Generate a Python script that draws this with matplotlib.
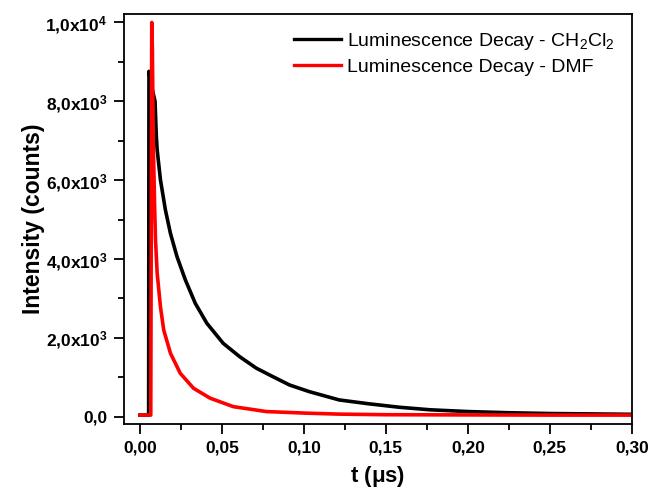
import numpy as np
import matplotlib
matplotlib.use("Agg")
import matplotlib.pyplot as plt
from matplotlib.ticker import MultipleLocator, FuncFormatter

plt.rcParams['font.family'] = ['Liberation Sans', 'DejaVu Sans']
plt.rcParams['mathtext.fontset'] = 'custom'
plt.rcParams['mathtext.rm'] = 'Liberation Sans'
plt.rcParams['mathtext.it'] = 'Liberation Sans:italic'
plt.rcParams['mathtext.bf'] = 'Liberation Sans:bold'

# decay curves (t in microseconds, counts)
t_ch2cl2 = [0.000, 0.0053, 0.0055, 0.0070, 0.0092, 0.0100, 0.0105, 0.0125, 0.0155,
            0.0186, 0.0226, 0.0277, 0.0337, 0.0408, 0.0508, 0.0609, 0.0710, 0.0811,
            0.0912, 0.1033, 0.1215, 0.139, 0.158, 0.177, 0.200, 0.225, 0.250, 0.275, 0.300]
i_ch2cl2 = [40, 40, 8760, 8400, 8000, 7100, 6770, 6010, 5250,
            4650, 4060, 3470, 2880, 2370, 1860, 1520, 1230, 1015,
            805, 635, 425, 330, 240, 175, 130, 100, 80, 70, 60]

t_dmf = [0.000, 0.0066, 0.0072, 0.0076, 0.0081, 0.0090, 0.0095, 0.0105, 0.0125,
         0.0145, 0.0186, 0.0246, 0.0327, 0.0428, 0.0569, 0.0771, 0.1013, 0.1215,
         0.150, 0.200, 0.250, 0.300]
i_dmf = [40, 40, 10000, 9300, 7000, 5250, 4480, 3640, 2790,
         2200, 1610, 1100, 720, 470, 255, 130, 90, 65,
         50, 45, 40, 40]

labels = [r'Luminescence Decay - CH$_2$Cl$_2$', 'Luminescence Decay - DMF']

fig = plt.figure(figsize=(6.52, 4.93), dpi=100)
ax = fig.add_axes([0.190, 0.140, 0.779, 0.832])

ax.plot(t_ch2cl2, i_ch2cl2, color='black', lw=2.6, label=labels[0])
ax.plot(t_dmf, i_dmf, color='red', lw=2.6, label=labels[1])

ax.set_xlim(-0.0098, 0.300)
ax.set_ylim(-185, 10220)

ax.xaxis.set_major_locator(MultipleLocator(0.05))
ax.xaxis.set_minor_locator(MultipleLocator(0.025))
ax.yaxis.set_major_locator(MultipleLocator(2000))
ax.yaxis.set_minor_locator(MultipleLocator(1000))


def fmt_y(v, pos):
    if v == 0:
        return '0,0'
    e = int(np.floor(np.log10(abs(v)) + 1e-9))
    m = v / 10 ** e
    return ('%.1f' % m).replace('.', ',') + r'x10$^{\mathbf{%d}}$' % e


ax.yaxis.set_major_formatter(FuncFormatter(fmt_y))
ax.xaxis.set_major_formatter(FuncFormatter(lambda v, p: ('%.2f' % v).replace('.', ',')))

ax.tick_params(which='both', direction='out', top=False, right=False, width=1.3)
ax.tick_params(which='major', length=7, labelsize=12.5, pad=5)
ax.tick_params(which='minor', length=4)
for lab in ax.get_xticklabels() + ax.get_yticklabels():
    lab.set_fontweight('bold')
for s in ax.spines.values():
    s.set_linewidth(1.3)

ax.set_xlabel(r't ($\mathbf{\mu}$s)', fontsize=16, fontweight='bold', labelpad=6)
ax.set_ylabel('Intensity (counts)', fontsize=16.5, fontweight='bold', labelpad=0)

leg = ax.legend(loc='upper right', frameon=False, fontsize=14, handlelength=2.4,
                handletextpad=0.3, borderaxespad=0.5, labelspacing=0.3)
for h in leg.get_lines():
    h.set_linewidth(2.4)

fig.savefig('out.png', dpi=100)
